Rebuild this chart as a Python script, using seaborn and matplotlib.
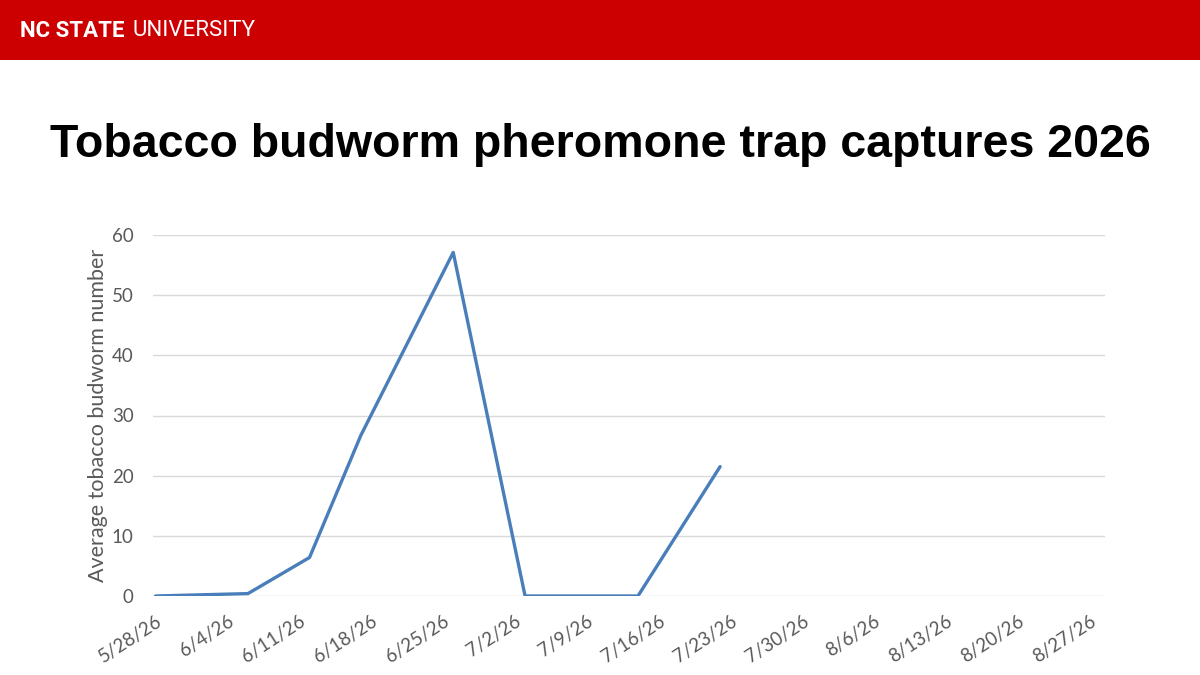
import pandas as pd
import matplotlib
matplotlib.use("Agg")
import matplotlib.pyplot as plt
import seaborn as sns

# Trap capture dates and average counts
capture_dates = ["2026-05-28", "2026-06-06", "2026-06-12", "2026-06-17",
                 "2026-06-26", "2026-07-03", "2026-07-14", "2026-07-22"]
avg_budworm = [0.0, 0.4, 6.4, 26.7, 57.1, 0.0, 0.0, 21.5]

tick_dates = ["2026-05-28", "2026-06-04", "2026-06-11", "2026-06-18", "2026-06-25",
              "2026-07-02", "2026-07-09", "2026-07-16", "2026-07-23", "2026-07-30",
              "2026-08-06", "2026-08-13", "2026-08-20", "2026-08-27"]
y_ticks = [0, 10, 20, 30, 40, 50, 60]

df = pd.DataFrame({"date": pd.to_datetime(capture_dates), "count": avg_budworm})
ticks = pd.to_datetime(tick_dates)
tick_labels = [f"{d.month}/{d.day}/{d.strftime('%y')}" for d in ticks]

sns.set_style("white")
plt.rcParams['font.family'] = ['Lato', 'DejaVu Sans']

fig = plt.figure(figsize=(12, 6.75), dpi=100)

# red banner
banner = fig.add_axes([0, 1 - 60 / 675, 1, 60 / 675])
banner.set_facecolor("#CC0000")
banner.set_xticks([])
banner.set_yticks([])
for s in banner.spines.values():
    s.set_visible(False)
fig.text(20 / 1200, 1 - 31 / 675, "NC STATE", color="white", fontsize=16, fontweight="bold",
         family=["Roboto", "DejaVu Sans"], ha="left", va="center")
fig.text(133 / 1200, 1 - 31 / 675, "UNIVERSITY", color="white", fontsize=16,
         family=["Roboto", "DejaVu Sans"], ha="left", va="center")

fig.text(0.5, 1 - 145 / 675, "Tobacco budworm pheromone trap captures 2026",
         fontsize=33.5, fontweight="bold", family=["Liberation Sans", "DejaVu Sans"],
         ha="center", va="center", color="black")

ax = fig.add_axes([153 / 1200, 1 - 596 / 675, (1105 - 153) / 1200, (596 - 235) / 675])
sns.lineplot(data=df, x="date", y="count", ax=ax, color="#4A7EBB", linewidth=2.4)

ax.set_ylim(0, 60)
ax.set_yticks(y_ticks)
ax.set_xlim(pd.Timestamp("2026-05-27 18:00"), pd.Timestamp("2026-08-28 12:00"))
ax.set_xticks(ticks)
ax.set_xticklabels(tick_labels, rotation=33, ha="right", va="top", rotation_mode="anchor")
ax.grid(axis="y", color="#D9D9D9", linewidth=1)
ax.set_axisbelow(True)
for s in ax.spines.values():
    s.set_visible(False)
ax.tick_params(axis="both", length=0, labelsize=13.5, labelcolor="#595959")
ax.tick_params(axis="y", pad=14)
ax.tick_params(axis="x", pad=12)
ax.set_xlabel("")
ax.set_ylabel("Average tobacco budworm number", fontsize=15.5, color="#595959")
ax.yaxis.set_label_coords(-0.047, 0.5)

fig.savefig("out.png", dpi=100)
